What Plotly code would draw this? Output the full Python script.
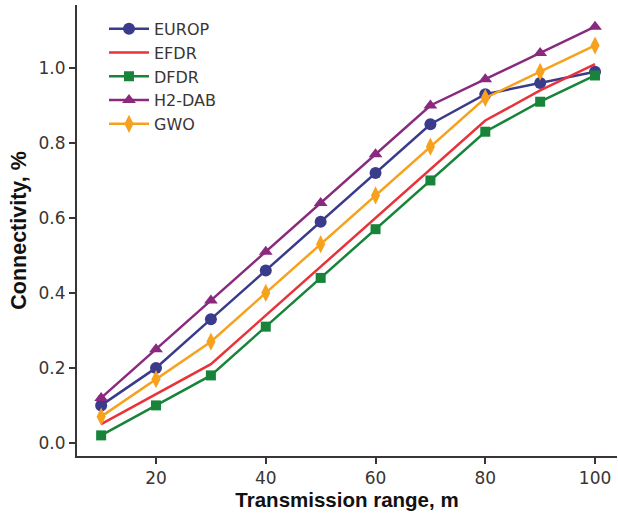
import plotly.graph_objects as go

x = [10, 20, 30, 40, 50, 60, 70, 80, 90, 100]
europ = [0.10, 0.20, 0.33, 0.46, 0.59, 0.72, 0.85, 0.93, 0.96, 0.99]
efdr = [0.05, 0.13, 0.21, 0.34, 0.47, 0.60, 0.73, 0.86, 0.94, 1.01]
dfdr = [0.02, 0.10, 0.18, 0.31, 0.44, 0.57, 0.70, 0.83, 0.91, 0.98]
h2dab = [0.12, 0.25, 0.38, 0.51, 0.64, 0.77, 0.90, 0.97, 1.04, 1.11]
gwo = [0.07, 0.17, 0.27, 0.40, 0.53, 0.66, 0.79, 0.92, 0.99, 1.06]

series = [
    ("EUROP", europ, "#3b3b8c", "lines+markers", "circle", 12),
    ("EFDR", efdr, "#e8333a", "lines", None, 0),
    ("DFDR", dfdr, "#17843a", "lines+markers", "square", 10),
    ("H2-DAB", h2dab, "#8a2a7f", "lines+markers", "triangle-up", 12),
    ("GWO", gwo, "#f7a21e", "lines+markers", "diamond-tall", 13),
]

fig = go.Figure()
for name, y, c, mode, sym, sz in series:
    kw = dict(x=x, y=y, name=name, mode=mode, line=dict(color=c, width=2.5))
    if sym:
        kw["marker"] = dict(symbol=sym, size=sz, color=c)
    fig.add_trace(go.Scatter(**kw))

axis_common = dict(
    showline=True, linecolor="#3a3532", linewidth=2,
    ticks="outside", ticklen=6, tickwidth=1.5, tickcolor="#3a3532",
    showgrid=False, zeroline=False,
    tickfont=dict(family="DejaVu Sans", size=17, color="#3a3532"),
)

fig.update_layout(
    width=618, height=513,
    margin=dict(l=77, r=1, t=5, b=57),
    plot_bgcolor="white", paper_bgcolor="white",
    xaxis=dict(range=[5.6, 104], tickvals=[20, 40, 60, 80, 100],
               title=dict(text="<b>Transmission range, m</b>", standoff=5,
                          font=dict(family="Liberation Sans", size=20.5, color="#111")),
               **axis_common),
    yaxis=dict(range=[-0.035, 1.168], tickvals=[0, 0.2, 0.4, 0.6, 0.8, 1.0],
               tickformat=".1f",
               title=dict(text="<b>Connectivity, %</b>", standoff=6,
                          font=dict(family="Liberation Sans", size=21.5, color="#111")),
               **axis_common),
    legend=dict(x=0.05, y=0.985, xanchor="left", yanchor="top",
                font=dict(family="DejaVu Sans", size=16, color="#3a3532"),
                bgcolor="rgba(0,0,0,0)", tracegroupgap=0, itemwidth=40),
    showlegend=True,
)

fig.write_html("out.html")
